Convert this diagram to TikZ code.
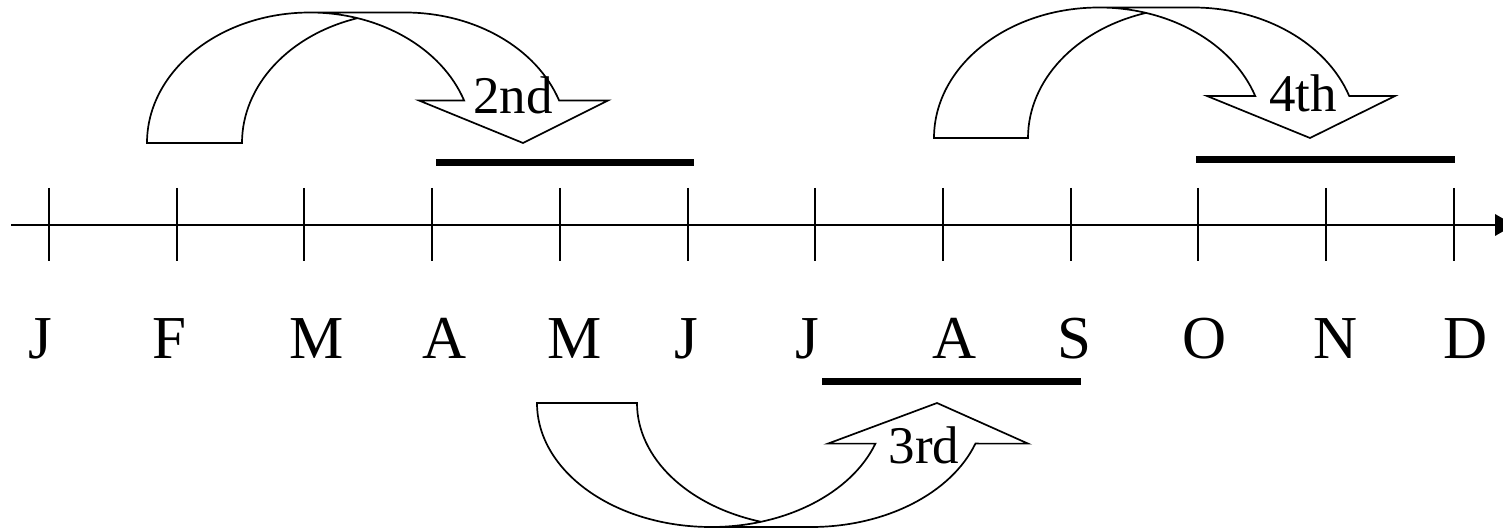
\documentclass[tikz,border=0pt]{standalone}
\usepackage{fontspec}
\setmainfont{Liberation Serif}
\tikzset{
  arrowline/.style={draw=black, line width=1.7pt, line join=miter},
  axisline/.style={draw=black, line width=2pt},
  tickline/.style={draw=black, line width=2pt},
  periodbar/.style={draw=black, line width=7pt},
  month/.style={anchor=base, inner sep=0pt, font=\fontsize{61}{70}\selectfont},
  ordinal/.style={anchor=base, inner sep=0pt, font=\fontsize{53}{60}\selectfont},
}
% #1 h, #2 rx, #3 th, #4 ah, #5 x4, #6 x6, #7 x8  (local coords: origin = outer base corner, y toward arc top)
\newcommand\curvedArrowShape[7]{%
  \pgfmathsetmacro\cvAng{acos(-#3/(2*#2))}%
  \pgfmathsetmacro\cvY{#1*sin(\cvAng)}%
  \pgfmathsetmacro\cvX{#2+#3+#2*cos(\cvAng)}%
  \pgfmathsetmacro\cvS{asin(#4/#1)}%
  \pgfmathsetmacro\cvFive{#2+#2*cos(\cvS)}%
  \draw[arrowline] (\cvX,\cvY)
    arc[start angle=\cvAng, end angle=180, x radius=#2, y radius=#1]
    -- (0,0)
    arc[start angle=180, end angle=90, x radius=#2, y radius=#1]
    -- (#2+#3,#1)
    arc[start angle=90, end angle=\cvS, x radius=#2, y radius=#1]
    -- (#7,#4) -- (#6,0) -- (#5,#4) -- (\cvFive,#4)
    arc[start angle=\cvS, end angle=90, x radius=#2, y radius=#1];
}
\begin{document}
\begin{tikzpicture}[x=1pt, y=-1pt]
  \clip (0,0) rectangle (1503,529);
  \fill[white] (0,0) rectangle (1503,529);

  % time axis
  \coordinate (axisStart) at (11,225);
  \coordinate (axisEnd) at (1495,225);
  \draw[axisline] (axisStart) -- (axisEnd);
  \fill[black] (1495,214) -- (1514,225) -- (1495,236) -- cycle;

  % ticks and month labels
  \foreach \i/\lab/\lx in {0/J/40, 1/F/169, 2/M/317, 3/A/445, 4/M/575, 5/J/686,
                           6/J/807, 7/A/955, 8/S/1074, 9/O/1205, 10/N/1336, 11/D/1466} {
    \pgfmathsetmacro\tx{49+127.7*\i}
    \draw[tickline] (\tx,188) -- (\tx,261);
    \node[month] (m\i) at (\lx,358) {\lab};
  }

  % period bars
  \draw[periodbar] (436,162.5) -- (694,162.5);
  \draw[periodbar] (1196,160) -- (1455,160);
  \draw[periodbar] (822,381) -- (1081,381);

  % curved arrows
  \begin{scope}[shift={(147,143)}, yscale=-1]
    \curvedArrowShape{130.5}{163}{95}{42.5}{272}{376}{461}
  \end{scope}
  \begin{scope}[shift={(934,138)}, yscale=-1]
    \curvedArrowShape{130.5}{165}{94}{42}{273}{376}{461}
  \end{scope}
  \begin{scope}[shift={(537,403)}]
    \curvedArrowShape{124}{174}{100}{40.6}{291}{400}{491}
  \end{scope}

  % ordinal labels
  \node[ordinal] (second) at (513,114) {2nd};
  \node[ordinal] (third) at (924,463) {3rd};
  \node[ordinal] (fourth) at (1303,112) {4th};
\end{tikzpicture}
\end{document}
